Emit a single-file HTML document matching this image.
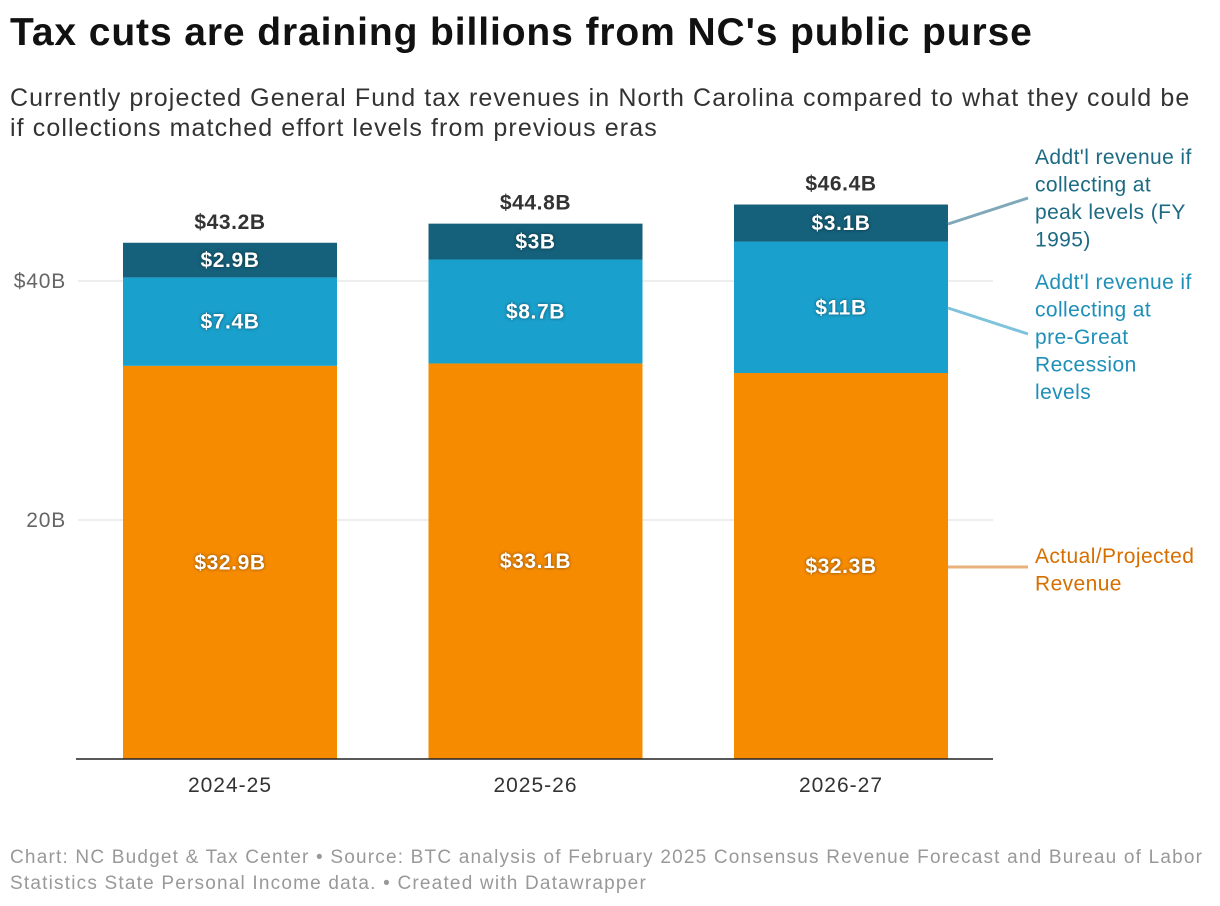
<!DOCTYPE html>
<html><head><meta charset="utf-8">
<style>
body{margin:0;width:1220px;height:906px;background:#fff;font-family:"Liberation Sans",sans-serif;overflow:hidden;position:relative}
.t{position:absolute;white-space:nowrap}
</style></head><body>
<div class="t" style="left:10px;top:11px;font-size:39px;font-weight:bold;color:#111;letter-spacing:0.9px">Tax cuts are draining billions from NC's public purse</div>
<div class="t" style="left:10px;top:83px;font-size:25px;color:#333;line-height:30px;letter-spacing:1.1px">Currently projected General Fund tax revenues in North Carolina compared to what they could be<br>if collections matched effort levels from previous eras</div>
<svg id="chart" width="1220" height="906" style="position:absolute;left:0;top:0" font-family="Liberation Sans, sans-serif"></svg>
<div class="t" style="left:10px;top:845px;font-size:19px;color:#999;line-height:26px;letter-spacing:1.2px">Chart: NC Budget &amp; Tax Center • Source: BTC analysis of February 2025 Consensus Revenue Forecast and Bureau of Labor<br>Statistics State Personal Income data. • Created with Datawrapper</div>
<script>
const categories=["2024-25","2025-26","2026-27"];
const actual=[32.9,33.1,32.3];
const preRecession=[7.4,8.7,11];
const peak=[2.9,3,3.1];
const totals=["$43.2B","$44.8B","$46.4B"];
const actualLabels=["$32.9B","$33.1B","$32.3B"];
const preLabels=["$7.4B","$8.7B","$11B"];
const peakLabels=["$2.9B","$3B","$3.1B"];
const ticks=[20,40];
const tickLabels=["20B","$40B"];
const svg=document.getElementById('chart');
const NS='http://www.w3.org/2000/svg';
const y=v=>759-v*11.95;
const bx=i=>123+i*305.5, bw=214;
function mk(tag,attrs,txt){const e=document.createElementNS(NS,tag);for(const k in attrs)e.setAttribute(k,attrs[k]);if(txt!==undefined)e.textContent=txt;svg.appendChild(e);return e;}
ticks.forEach((t,i)=>{
 const g=mk('line',{x1:78,x2:993,y1:y(t),y2:y(t),stroke:'#ddd','stroke-width':1});
 
 
 const l=mk('text',{x:66,y:y(t)+7,'text-anchor':'end','font-size':21,'letter-spacing':0.8,fill:'#666'},tickLabels[i]);
 
 
});
const series=[[actual,'#f78b00',actualLabels,'bar-actual'],[preRecession,'#1aa0cc',preLabels,'bar-pre-recession'],[peak,'#15607a',peakLabels,'bar-peak']];
categories.forEach((c,i)=>{
 let base=0;
 series.forEach(([vals,col,labs,name])=>{
  const v=vals[i];
  const r=mk('rect',{x:bx(i),y:y(base+v),width:bw,height:y(base)-y(base+v),fill:col});
  
  
  const tx=mk('text',{x:bx(i)+bw/2,y:(y(base)+y(base+v))/2+7,'text-anchor':'middle','font-size':21,'letter-spacing':0.6,'font-weight':'bold',fill:'#fff',style:'text-shadow:0 0 3px rgba(0,0,0,0.5)'},labs[i]);
  
  
  base+=v;
 });
 const tt=mk('text',{x:bx(i)+bw/2,y:y(base)-14,'text-anchor':'middle','font-size':21,'letter-spacing':0.6,'font-weight':'bold',fill:'#333'},totals[i]);
 
 
 const xl=mk('text',{x:bx(i)+bw/2,y:792,'text-anchor':'middle','font-size':21,'letter-spacing':1,fill:'#333'},c);
 
 
});
const ax=mk('line',{x1:76,x2:993,y1:759,y2:759,stroke:'#222','stroke-width':1.5});


const anns=[
 {pts:[948,224,1028,198],col:'#7fa9b8',tc:'#1d6a84',ty:164,lines:["Addt'l revenue if","collecting at","peak levels (FY","1995)"],n:'annotation-peak'},
 {pts:[948,308,1028,334],col:'#7fc2dc',tc:'#1d8fb8',ty:289,lines:["Addt'l revenue if","collecting at","pre-Great","Recession","levels"],n:'annotation-pre-recession'},
 {pts:[948,567,1028,567],col:'#e8b07a',tc:'#d66f00',ty:563,lines:["Actual/Projected","Revenue"],n:'annotation-actual'}];
anns.forEach(a=>{
 const l=mk('line',{x1:a.pts[0],y1:a.pts[1],x2:a.pts[2],y2:a.pts[3],stroke:a.col,'stroke-width':3});
 
 
 a.lines.forEach((s,k)=>{
  const t=mk('text',{x:1035,y:a.ty+k*27.5,'font-size':21,'letter-spacing':0.4,fill:a.tc},s);
  
  
 });
});
</script>
</body></html>
